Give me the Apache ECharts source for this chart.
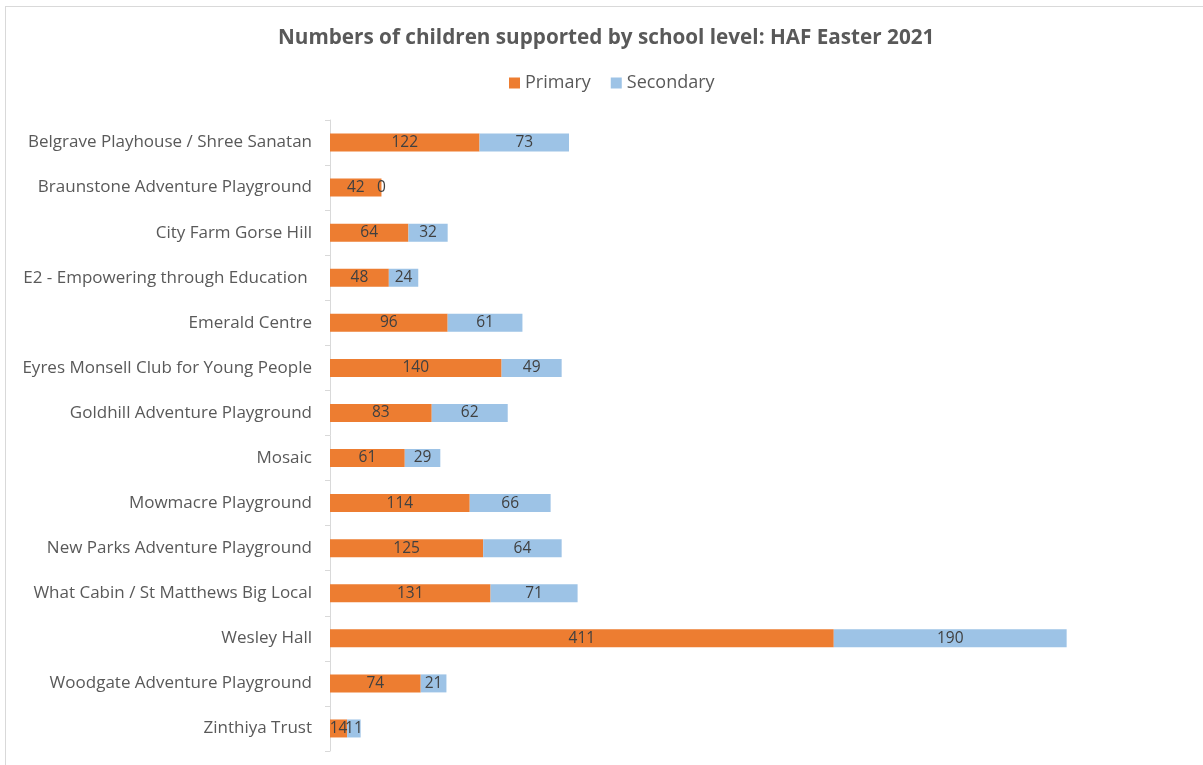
<!DOCTYPE html>
<html>
<head>
<meta charset="utf-8">
<script src="https://cdn.jsdelivr.net/npm/echarts@6/dist/echarts.min.js"></script>
<style>
html,body{margin:0;padding:0;background:#fff;}
#frame{position:absolute;left:5px;top:6px;width:1300px;height:900px;border:1.5px solid #d9d9d9;box-sizing:border-box;}
#chart{position:absolute;left:0;top:0;width:1203px;height:765px;}
</style>
</head>
<body>
<div id="frame"></div>
<div id="chart"></div>
<script>
const categories = [
  "Belgrave Playhouse / Shree Sanatan",
  "Braunstone Adventure Playground",
  "City Farm Gorse Hill",
  "E2 - Empowering through Education ",
  "Emerald Centre",
  "Eyres Monsell Club for Young People",
  "Goldhill Adventure Playground",
  "Mosaic",
  "Mowmacre Playground",
  "New Parks Adventure Playground",
  "What Cabin / St Matthews Big Local",
  "Wesley Hall",
  "Woodgate Adventure Playground",
  "Zinthiya Trust"
];
const primary = [122, 42, 64, 48, 96, 140, 83, 61, 114, 125, 131, 411, 74, 14];
const secondary = [73, 0, 32, 24, 61, 49, 62, 29, 66, 64, 71, 190, 21, 11];
const titleText = "Numbers of children supported by school level: HAF Easter 2021";

const FONT = "Open Sans";
const chart = echarts.init(document.getElementById('chart'), null, {renderer: 'canvas'});
const labelStyle = {
  show: true,
  position: 'inside',
  color: '#404040',
  fontSize: 15.5,
  fontFamily: FONT
};
chart.setOption({
  animation: false,
  backgroundColor: 'transparent',
  title: {
    text: titleText,
    left: 273,
    top: 23,
    textStyle: {fontFamily: FONT, fontSize: 20.7, fontWeight: 'bold', color: '#595959'}
  },
  legend: {
    top: 69,
    left: 504,
    itemWidth: 11,
    itemHeight: 11,
    itemGap: 20,
    icon: 'rect',
    textStyle: {fontFamily: FONT, fontSize: 18, color: '#595959'},
    data: ['Primary', 'Secondary']
  },
  grid: {left: 330, right: 15, top: 120, bottom: 14, containLabel: false},
  xAxis: {
    type: 'value',
    min: 0,
    max: 700,
    show: false
  },
  yAxis: {
    type: 'category',
    data: categories,
    inverse: true,
    axisLine: {show: true, lineStyle: {color: '#d9d9d9', width: 1}},
    axisTick: {show: true, length: 5, lineStyle: {color: '#d9d9d9'}},
    axisLabel: {fontFamily: FONT, fontSize: 17, color: '#595959', margin: 18}
  },
  series: [
    {
      name: 'Primary',
      type: 'bar',
      stack: 'total',
      data: primary,
      barWidth: 18,
      itemStyle: {color: '#ED7D31'},
      label: labelStyle
    },
    {
      name: 'Secondary',
      type: 'bar',
      stack: 'total',
      data: secondary,
      barWidth: 18,
      itemStyle: {color: '#9DC3E6'},
      label: labelStyle
    }
  ]
});
</script>
</body>
</html>
